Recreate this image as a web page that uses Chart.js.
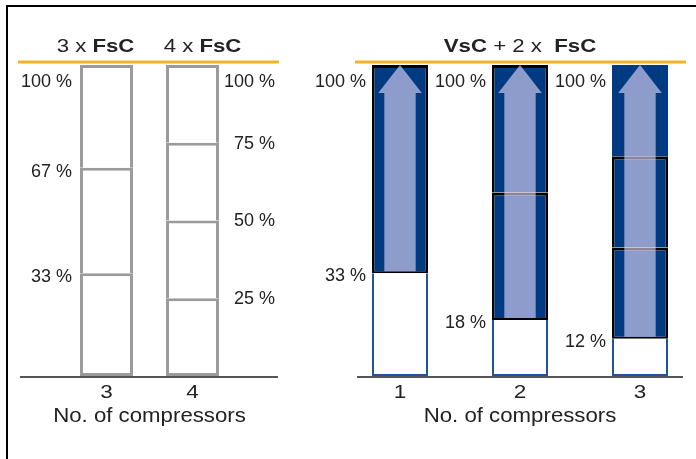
<!DOCTYPE html>
<html>
<head>
<meta charset="utf-8">
<script src="https://cdn.jsdelivr.net/npm/chart.js@4.4.1/dist/chart.umd.min.js"></script>
<style>
  html, body { margin: 0; padding: 0; background: #fff; width: 696px; height: 459px; overflow: hidden; }
  #frameTop { position: absolute; left: 6px; top: 5px; width: 690px; height: 2px; background: #000; }
  #frameLeft { position: absolute; left: 6px; top: 5px; width: 2px; height: 454px; background: #000; }
  #fixedChart { position: absolute; left: 0; top: 0; }
  #variableChart { position: absolute; left: 300px; top: 0; }
</style>
</head>
<body>
<div id="frameTop"></div>
<div id="frameLeft"></div>
<canvas id="fixedChart" width="300" height="459"></canvas>
<canvas id="variableChart" width="400" height="459"></canvas>
<script>
// Fixed-speed compressor packs: capacity steps per compressor (%)
const fixedCats = ['3', '4'];
const fixedTitles = ['3 x ', '4 x '];
const fixedStep1 = [33, 25];
const fixedStep2 = [34, 25];
const fixedStep3 = [33, 25];
const fixedStep4 = [null, 25];

// Variable-speed compressor + 2 fixed-speed: minimum capacity and steps (%)
const varCats = ['1', '2', '3'];
const varMinimum = [33, 18, 12];
const varStep1 = [67, 41, 29.3];
const varStep2 = [null, 41, 29.3];
const varStep3 = [null, null, 29.4];

const axisTitle = 'No. of compressors';

const ORANGE = '#f5b324';
const NAVY = '#003b82';
const GRAY = '#9b9b9b';
const TEXT = '#222';
const FONT = '"Liberation Sans", Arial, sans-serif';

function hline(ctx, x1, x2, y, color, w) {
  ctx.save();
  ctx.strokeStyle = color;
  ctx.lineWidth = w;
  ctx.beginPath();
  ctx.moveTo(x1, y);
  ctx.lineTo(x2, y);
  ctx.stroke();
  ctx.restore();
}

// Draws a run of text parts ({t, bold}) centred at cx, horizontally stretched by sx
function runText(ctx, parts, cx, cy, size, sx) {
  ctx.save();
  let total = 0;
  const widths = parts.map(p => {
    ctx.font = (p.bold ? 'bold ' : '') + size + 'px ' + FONT;
    const w = ctx.measureText(p.t).width;
    total += w;
    return w;
  });
  ctx.translate(cx, cy);
  ctx.scale(sx, 1);
  ctx.fillStyle = TEXT;
  ctx.textBaseline = 'middle';
  ctx.textAlign = 'left';
  let x = -total / 2;
  parts.forEach((p, i) => {
    ctx.font = (p.bold ? 'bold ' : '') + size + 'px ' + FONT;
    ctx.fillText(p.t, x, 0);
    x += widths[i];
  });
  ctx.restore();
}

function pctLabel(ctx, text, xRight, y) {
  ctx.save();
  ctx.font = '18px ' + FONT;
  ctx.fillStyle = TEXT;
  ctx.textAlign = 'right';
  ctx.textBaseline = 'middle';
  ctx.fillText(text, xRight, y);
  ctx.restore();
}

function cumulative(chart, i) {
  const out = [];
  let sum = 0;
  chart.data.datasets.forEach(ds => {
    const v = ds.data[i];
    if (v !== null && v !== undefined) { sum += v; out.push(sum); }
  });
  return out;
}

function baseOptions(padding) {
  return {
    responsive: false,
    animation: false,
    events: [],
    layout: { padding },
    plugins: { legend: { display: false }, tooltip: { enabled: false } },
    scales: {
      x: { type: 'category', stacked: true, display: false, offset: true },
      y: { stacked: true, display: false, min: 0, max: 100 }
    }
  };
}

function axisLabels(chart, cats) {
  const { ctx, scales: { x, y } } = chart;
  const zero = y.getPixelForValue(0);
  cats.forEach((c, i) => runText(ctx, [{ t: c }], x.getPixelForValue(i), zero + 17, 18, 1.25));
  const mid = (chart.chartArea.left + chart.chartArea.right) / 2;
  runText(ctx, [{ t: axisTitle }], mid, zero + 41, 19.5, 1.14);
}

// ---- Fixed-speed chart ----
const fixedDecor = {
  id: 'fixedDecor',
  afterDraw(chart) {
    const { ctx, scales: { y } } = chart;
    const top = y.getPixelForValue(100);
    const zero = y.getPixelForValue(0);
    hline(ctx, 18, 279, top - 3, ORANGE, 3);
    hline(ctx, 20, 278, zero + 1, '#555', 2);

    const bars = chart.getDatasetMeta(0).data;
    const titleShift = [-11, 10];
    fixedCats.forEach((c, i) => {
      const el = bars[i];
      runText(ctx, [{ t: fixedTitles[i] }, { t: 'FsC', bold: true }], el.x + titleShift[i], top - 18, 18.5, 1.2);
      const sums = cumulative(chart, i);
      sums.forEach(s => {
        const py = y.getPixelForValue(s);
        const txt = Math.round(s) + ' %';
        if (i === 0) {
          pctLabel(ctx, txt, el.x - el.width / 2 - 8, s >= 100 ? top + 17 : py + 4);
        } else {
          pctLabel(ctx, txt, el.x + el.width / 2 + 56, s >= 100 ? top + 17 : py + 1);
        }
      });
    });
    axisLabels(chart, fixedCats);
  }
};

function grayStep(data, first) {
  return {
    data,
    backgroundColor: '#fff',
    borderColor: GRAY,
    borderWidth: 3,
    borderSkipped: first ? false : 'start',
    barThickness: 53,
    inflateAmount: 0
  };
}

new Chart(document.getElementById('fixedChart'), {
  type: 'bar',
  data: {
    labels: fixedCats,
    datasets: [
      grayStep(fixedStep1, true),
      grayStep(fixedStep2, false),
      grayStep(fixedStep3, false),
      grayStep(fixedStep4, false)
    ]
  },
  options: baseOptions({ left: 63.5, right: 64.5, top: 65, bottom: 83 }),
  plugins: [fixedDecor]
});

// ---- Variable-speed chart ----
const variableDecor = {
  id: 'variableDecor',
  afterDatasetsDraw(chart) {
    // translucent arrows: capacity range covered by the variable-speed compressor
    const { ctx, scales: { y } } = chart;
    const bars = chart.getDatasetMeta(0).data;
    ctx.save();
    ctx.fillStyle = 'rgba(235,222,250,0.6)';
    bars.forEach((el, i) => {
      const sums = cumulative(chart, i);
      const top = y.getPixelForValue(sums[sums.length - 1]);
      const bottom = el.y - 2;
      const cx = el.x;
      const shaft = el.width * 0.56;
      const head = el.width * 0.78;
      const headH = 28;
      ctx.beginPath();
      ctx.moveTo(cx, top);
      ctx.lineTo(cx + head / 2, top + headH);
      ctx.lineTo(cx + shaft / 2, top + headH);
      ctx.lineTo(cx + shaft / 2, bottom);
      ctx.lineTo(cx - shaft / 2, bottom);
      ctx.lineTo(cx - shaft / 2, top + headH);
      ctx.lineTo(cx - head / 2, top + headH);
      ctx.closePath();
      ctx.fill();
    });
    ctx.restore();
  },
  afterDraw(chart) {
    const { ctx, scales: { y } } = chart;
    const top = y.getPixelForValue(100);
    const zero = y.getPixelForValue(0);
    hline(ctx, 55, 386, top - 3, ORANGE, 3);
    hline(ctx, 57, 383, zero + 1, '#555', 2);

    const mid = (chart.chartArea.left + chart.chartArea.right) / 2;
    runText(ctx, [{ t: 'VsC', bold: true }, { t: ' + 2 x  ' }, { t: 'FsC', bold: true }], mid, top - 18, 18.5, 1.2);

    const bars = chart.getDatasetMeta(0).data;
    varCats.forEach((c, i) => {
      const el = bars[i];
      const left = el.x - el.width / 2 - 6;
      const sums = cumulative(chart, i);
      pctLabel(ctx, Math.round(sums[sums.length - 1]) + ' %', left, top + 17);
      pctLabel(ctx, Math.round(varMinimum[i]) + ' %', left, y.getPixelForValue(varMinimum[i]) + 3);
    });
    axisLabels(chart, varCats);
  }
};

const BW = 56;
new Chart(document.getElementById('variableChart'), {
  type: 'bar',
  data: {
    labels: varCats,
    datasets: [
      { data: varMinimum, backgroundColor: '#fff', borderColor: '#2153a3',
        borderWidth: { top: 0, left: 2, right: 2, bottom: 2 }, borderSkipped: false, barThickness: BW, inflateAmount: 0 },
      { data: varStep1, backgroundColor: NAVY, borderColor: '#000',
        borderWidth: { top: 3, left: 2.5, right: 2.5, bottom: 2 }, borderSkipped: false, barThickness: BW, inflateAmount: 0 },
      { data: varStep2, backgroundColor: NAVY, borderColor: '#000',
        borderWidth: { top: 3, left: 2.5, right: 2.5, bottom: 0 }, borderSkipped: false, barThickness: BW, inflateAmount: 0 },
      { data: varStep3, backgroundColor: NAVY, borderWidth: 0, barThickness: BW, inflateAmount: 0 }
    ]
  },
  options: baseOptions({ left: 40, right: 0, top: 65, bottom: 83 }),
  plugins: [variableDecor]
});
</script>
</body>
</html>
